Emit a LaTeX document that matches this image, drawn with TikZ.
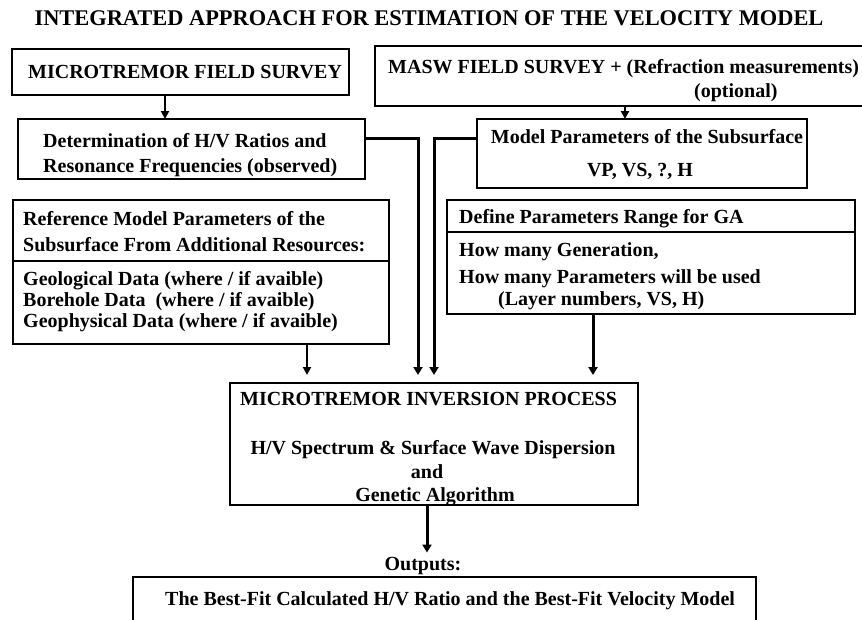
\documentclass[tikz,border=0pt]{standalone}
\usepackage{fontspec}
\setmainfont{Liberation Serif}
\usetikzlibrary{arrows.meta}
\begin{document}
\begin{tikzpicture}[x=1pt,y=-1pt,
  box/.style={draw, line width=1.6pt, inner sep=0pt, outer sep=0pt, anchor=north west},
  txt/.style={inner sep=0pt, anchor=base west, font=\bfseries\fontsize{20}{24}\selectfont},
  ctxt/.style={txt, anchor=base},
  arr/.style={line width=2pt, -{Triangle[length=8pt,width=8pt]}},
  thick arr/.style={line width=3pt, -{Triangle[length=8pt,width=9pt]}}]
\useasboundingbox (0,0) rectangle (862,619);
\clip (0,0) rectangle (862,619);
% title
\node[ctxt, font=\bfseries\fontsize{22.4}{26}\selectfont] (title) at (429,25) {INTEGRATED APPROACH FOR ESTIMATION OF THE VELOCITY MODEL};
% boxes
\node[box, minimum width=337pt, minimum height=46pt] (mfs) at (12,49) {};
\node[box, minimum width=491pt, minimum height=60pt] (masw) at (375,46) {};
\node[box, minimum width=347pt, minimum height=60pt] (det) at (18,119) {};
\node[box, minimum width=330pt, minimum height=69pt] (model) at (477,119) {};
\node[box, minimum width=376pt, minimum height=61pt] (refa) at (13,200) {};
\node[box, minimum width=376pt, minimum height=83pt] (refb) at (13,261) {};
\node[box, minimum width=408pt, minimum height=32pt] (defa) at (447,200) {};
\node[box, minimum width=408pt, minimum height=82pt] (defb) at (447,232) {};
\node[box, minimum width=408pt, minimum height=122pt] (inv) at (230,383) {};
\node[box, minimum width=623pt, minimum height=80pt] (outb) at (133,577) {};
% texts
\node[txt] (t-mfs) at (28,78) {MICROTREMOR FIELD SURVEY};
\node[txt] (t-masw1) at (388,73) {MASW FIELD SURVEY + (Refraction measurements)};
\node[txt] (t-masw2) at (694,97) {(optional)};
\node[txt] (t-det1) at (43,147) {Determination of H/V Ratios and};
\node[txt] (t-det2) at (43,172.5) {Resonance Frequencies (observed)};
\node[ctxt] (t-mod1) at (647,143) {Model Parameters of the Subsurface};
\node[ctxt] (t-mod2) at (640,176) {VP, VS, ?, H};
\node[txt] (t-ref1) at (23,225) {Reference Model Parameters of the};
\node[txt] (t-ref2) at (23,251.5) {Subsurface From Additional Resources:};
\node[txt] (t-ref3) at (23,285) {Geological Data (where / if avaible)};
\node[txt] (t-ref4) at (23,306) {Borehole Data\ \ (where / if avaible)};
\node[txt] (t-ref5) at (23,327) {Geophysical Data (where / if avaible)};
\node[txt] (t-def1) at (459,223) {Define Parameters Range for GA};
\node[txt] (t-def2) at (459,256) {How many Generation,};
\node[txt] (t-def3) at (459,283) {How many Parameters will be used};
\node[txt] (t-def4) at (498,305) {(Layer numbers, VS, H)};
\node[txt] (t-inv1) at (240,405) {MICROTREMOR INVERSION PROCESS};
\node[ctxt] (t-inv2) at (433,454) {H/V Spectrum \& Surface Wave Dispersion};
\node[ctxt] (t-inv3) at (427,478) {and};
\node[ctxt] (t-inv4) at (435,501) {Genetic Algorithm};
\node[ctxt] (outl) at (423,570) {Outputs:};
\node[txt] (t-out) at (165,605) {The Best-Fit Calculated H/V Ratio and the Best-Fit Velocity Model};
% connectors
\draw[arr] ([xshift=-15.5pt]mfs.south) -- ([xshift=-15.5pt]mfs.south |- det.north);
\draw[arr] ([xshift=4.5pt]masw.south) -- ([xshift=4.5pt]masw.south |- model.north);
\draw[thick arr, shorten >=8pt] ([yshift=11pt]det.east) -| ([xshift=-16pt]inv.north);
\draw[thick arr, shorten >=8pt] ([yshift=15.5pt]model.west) -| (inv.north);
\draw[arr, shorten >=8pt] ([xshift=106pt]refb.south) -- ([xshift=106pt]refb.south |- inv.north);
\draw[thick arr, shorten >=8pt] ([xshift=-58pt]defb.south) -- ([xshift=-58pt]defb.south |- inv.north);
\draw[thick arr, shorten >=4pt] ([xshift=-7pt]inv.south) -- ([xshift=-7pt]inv.south |- outl.north);
\end{tikzpicture}
\end{document}
